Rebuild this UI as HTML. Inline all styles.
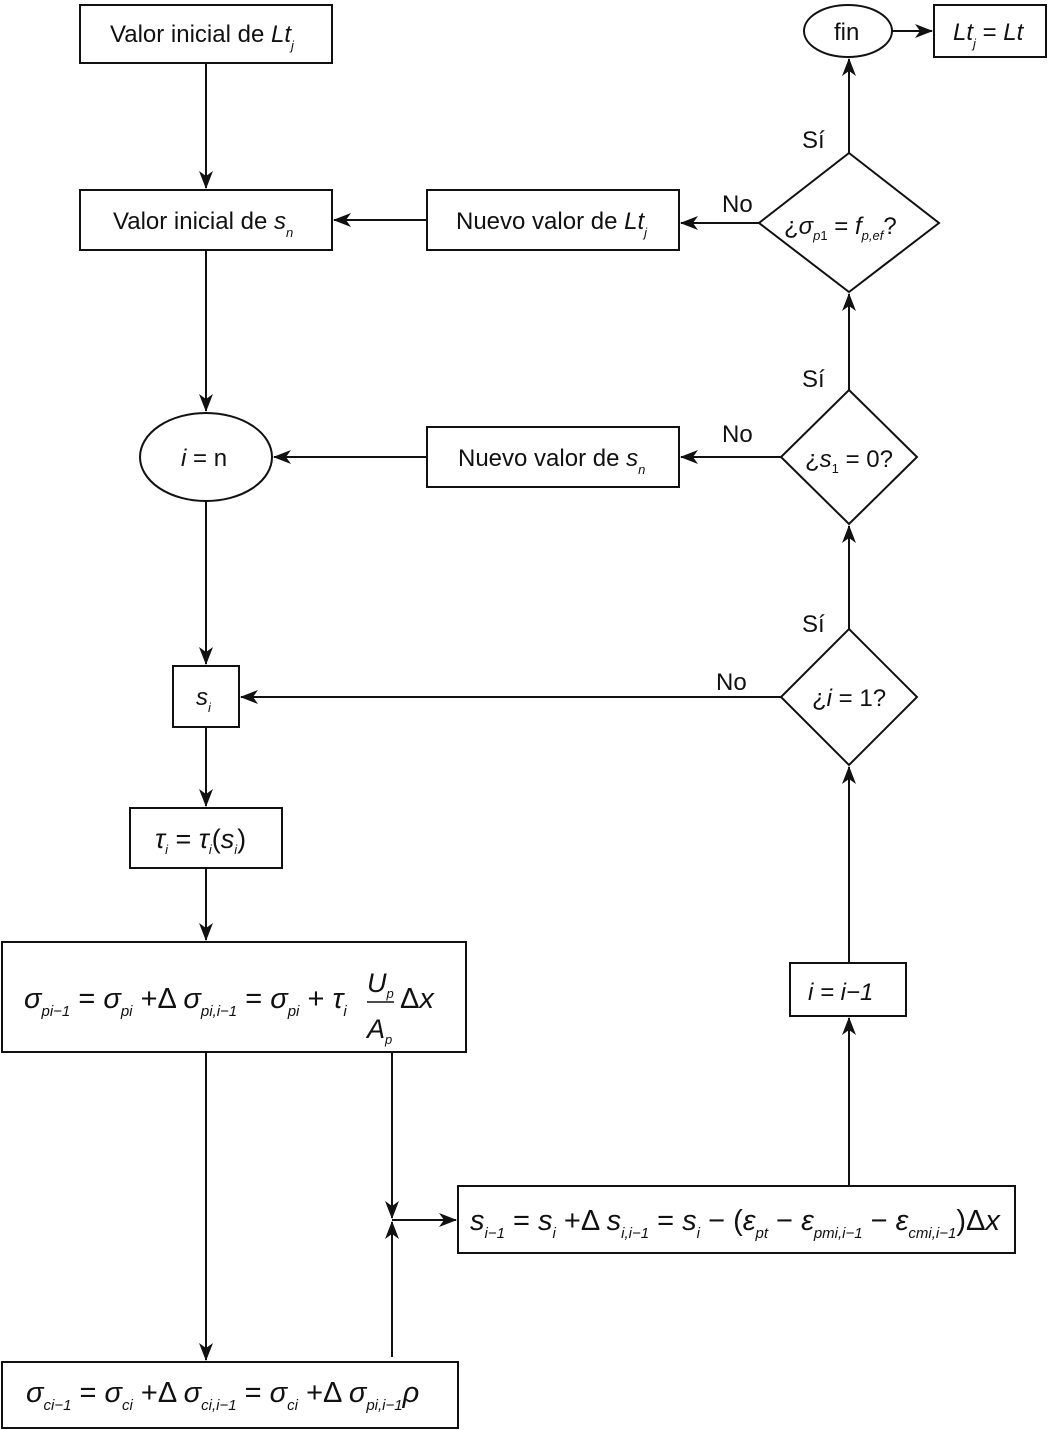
<!DOCTYPE html>
<html><head><meta charset="utf-8"><style>
body{margin:0;background:#fff}
svg{display:block}
text{font-family:"Liberation Sans",Arial,sans-serif;fill:#111}
</style></head><body>
<svg width="1049" height="1430" viewBox="0 0 1049 1430">
<defs><marker id="a" markerWidth="18" markerHeight="14" refX="17" refY="7" orient="auto" markerUnits="userSpaceOnUse"><path d="M0,0 L18,7 L0,14 L5,7 Z" fill="#111"/></marker></defs>
<g fill="none" stroke="#111" stroke-width="2">
<rect x="80" y="5" width="252" height="58"/>
<rect x="80" y="190" width="252" height="60"/>
<rect x="427" y="190" width="252" height="60"/>
<polygon points="849,153 939,223 849,292 759,223"/>
<ellipse cx="848" cy="31" rx="44" ry="26"/>
<rect x="934" y="5" width="112" height="52"/>
<ellipse cx="206" cy="457" rx="66" ry="44"/>
<rect x="427" y="427" width="252" height="60"/>
<polygon points="849,390 917,457 849,524 781,457"/>
<rect x="173" y="666" width="66" height="61"/>
<polygon points="849,629 917,697 849,765 781,697"/>
<rect x="130" y="808" width="152" height="60"/>
<rect x="2" y="942" width="464" height="110"/>
<rect x="790" y="963" width="116" height="53"/>
<rect x="458" y="1186" width="557" height="67"/>
<rect x="2" y="1362" width="456" height="66"/>
</g>
<g stroke="#111" stroke-width="2" marker-end="url(#a)">
<line x1="206" y1="63" x2="206" y2="188"/>
<line x1="206" y1="250" x2="206" y2="411"/>
<line x1="206" y1="501" x2="206" y2="664"/>
<line x1="206" y1="727" x2="206" y2="806"/>
<line x1="206" y1="868" x2="206" y2="940"/>
<line x1="206" y1="1052" x2="206" y2="1360"/>
<line x1="392" y1="1052" x2="392" y2="1218"/>
<line x1="392" y1="1357" x2="392" y2="1222"/>
<line x1="392" y1="1220" x2="456" y2="1220"/>
<line x1="849" y1="1186" x2="849" y2="1018"/>
<line x1="849" y1="963" x2="849" y2="767"/>
<line x1="849" y1="629" x2="849" y2="526"/>
<line x1="849" y1="390" x2="849" y2="294"/>
<line x1="849" y1="153" x2="849" y2="59"/>
<line x1="892" y1="31" x2="932" y2="31"/>
<line x1="759" y1="223" x2="681" y2="223"/>
<line x1="427" y1="220" x2="334" y2="220"/>
<line x1="781" y1="457" x2="681" y2="457"/>
<line x1="427" y1="457" x2="274" y2="457"/>
<line x1="781" y1="697" x2="241" y2="697"/>
</g>
<g font-size="24">
<text x="110" y="42">Valor inicial de <tspan font-style="italic">Lt</tspan><tspan font-size="13" dy="8" font-style="italic">j</tspan></text>
<text x="113" y="229">Valor inicial de <tspan font-style="italic">s</tspan><tspan font-size="13" dy="8" font-style="italic">n</tspan></text>
<text x="456" y="229">Nuevo valor de <tspan font-style="italic">Lt</tspan><tspan font-size="13" dy="8" font-style="italic">j</tspan></text>
<text x="458" y="466">Nuevo valor de <tspan font-style="italic">s</tspan><tspan font-size="13" dy="8" font-style="italic">n</tspan></text>
<text x="834" y="40">fin</text>
<text x="953" y="40" font-style="italic">Lt<tspan font-size="13" dy="8">j</tspan><tspan dy="-8" font-style="normal"> = </tspan>Lt</text>
<text x="784" y="234">¿<tspan font-style="italic">σ</tspan><tspan font-size="13" dy="6" font-style="italic">p</tspan><tspan font-size="13">1</tspan><tspan dy="-6"> = </tspan><tspan font-style="italic">f</tspan><tspan font-size="13" dy="6" font-style="italic">p,ef</tspan><tspan dy="-6">?</tspan></text>
<text x="805" y="467">¿<tspan font-style="italic">s</tspan><tspan font-size="13" dy="6">1</tspan><tspan dy="-6"> = 0?</tspan></text>
<text x="812" y="706">¿<tspan font-style="italic">i</tspan> = 1?</text>
<text x="181" y="466"><tspan font-style="italic">i</tspan> = n</text>
<text x="196" y="705" font-style="italic">s<tspan font-size="13" dy="7">i</tspan></text>
<text x="808" y="1000" font-style="italic">i = i−1</text>
<text x="802" y="148">Sí</text>
<text x="802" y="387">Sí</text>
<text x="802" y="632">Sí</text>
<text x="722" y="212">No</text>
<text x="722" y="442">No</text>
<text x="716" y="690">No</text>
</g>
<g font-size="29" font-style="italic">
<text x="155" y="848" font-size="27">τ<tspan font-size="13" dy="6">i</tspan><tspan dy="-6" font-style="normal"> = </tspan>τ<tspan font-size="13" dy="6">i</tspan><tspan dy="-6" font-style="normal">(</tspan>s<tspan font-size="13" dy="6">i</tspan><tspan dy="-6" font-style="normal">)</tspan></text>
<text x="24" y="1008">σ<tspan font-size="15" dy="8">pi−1</tspan><tspan dy="-8" font-style="normal"> = </tspan>σ<tspan font-size="15" dy="8">pi</tspan><tspan dy="-8" font-style="normal"> +Δ </tspan>σ<tspan font-size="15" dy="8">pi,i−1</tspan><tspan dy="-8" font-style="normal"> = </tspan>σ<tspan font-size="15" dy="8">pi</tspan><tspan dy="-8" font-style="normal"> + </tspan>τ<tspan font-size="15" dy="8">i</tspan></text>
<text x="367" y="992" font-size="27">U<tspan font-size="13" dy="6">p</tspan></text>
<text x="367" y="1038" font-size="27">A<tspan font-size="13" dy="6">p</tspan></text>
<text x="400" y="1008"><tspan font-style="normal">Δ</tspan>x</text>
<text x="26" y="1402">σ<tspan font-size="15" dy="8">ci−1</tspan><tspan dy="-8" font-style="normal"> = </tspan>σ<tspan font-size="15" dy="8">ci</tspan><tspan dy="-8" font-style="normal"> +Δ </tspan>σ<tspan font-size="15" dy="8">ci,i−1</tspan><tspan dy="-8" font-style="normal"> = </tspan>σ<tspan font-size="15" dy="8">ci</tspan><tspan dy="-8" font-style="normal"> +Δ </tspan>σ<tspan font-size="15" dy="8">pi,i−1</tspan><tspan dy="-8">ρ</tspan></text>
<text x="470" y="1230">s<tspan font-size="15" dy="8">i−1</tspan><tspan dy="-8" font-style="normal"> = </tspan>s<tspan font-size="15" dy="8">i</tspan><tspan dy="-8" font-style="normal"> +Δ </tspan>s<tspan font-size="15" dy="8">i,i−1</tspan><tspan dy="-8" font-style="normal"> = </tspan>s<tspan font-size="15" dy="8">i</tspan><tspan dy="-8" font-style="normal"> − (</tspan>ε<tspan font-size="15" dy="8">pt</tspan><tspan dy="-8" font-style="normal"> − </tspan>ε<tspan font-size="15" dy="8">pmi,i−1</tspan><tspan dy="-8" font-style="normal"> − </tspan>ε<tspan font-size="15" dy="8">cmi,i−1</tspan><tspan dy="-8" font-style="normal">)Δ</tspan>x</text>
</g>
<line x1="367" y1="1002" x2="394" y2="1002" stroke="#111" stroke-width="1.5"/>
</svg>
</body></html>
